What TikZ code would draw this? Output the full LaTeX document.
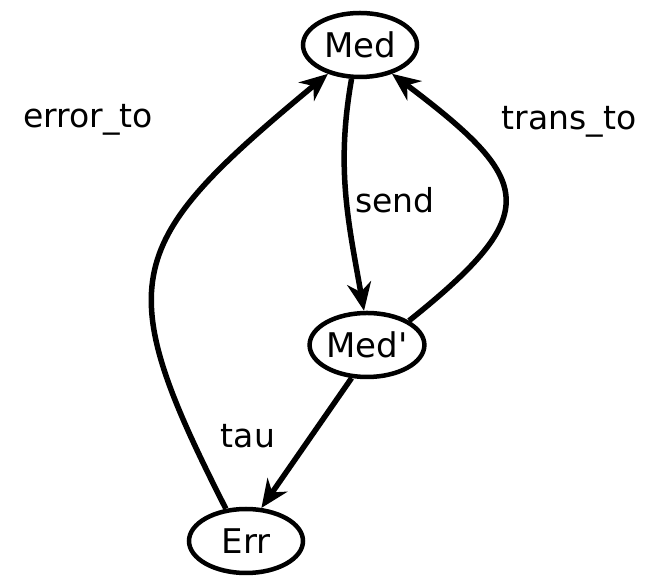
\documentclass[tikz,border=0pt]{standalone}
\usepackage{fontspec}
\setmainfont{DejaVu Sans}
\usetikzlibrary{arrows.meta,shapes.geometric}

\begin{document}
\begin{tikzpicture}[x=1pt,y=1pt,
  state/.style={draw,ellipse,line width=4.5pt,inner sep=0pt,
    minimum width=114pt,minimum height=64pt,font=\fontsize{34}{36}\selectfont},
  lbl/.style={font=\fontsize{33}{36}\selectfont},
  edge/.style={line width=5.5pt,-{Stealth[length=28pt,width=24pt,inset=9pt]}}]

\useasboundingbox (0,0) rectangle (653,577);

\node[state] (med) at (360,532) {Med};
\node[state] (medp) at (367,232) {Med\textquotesingle};
\node[state] (err) at (246,36) {Err};

\node[lbl] (lerror) at (88,457) {error\_to};
\node[lbl] (lsend) at (395,377) {send};
\node[lbl] (ltrans) at (569,455) {trans\_to};
\node[lbl] (ltau) at (248,141) {tau};

\draw[edge] (med.256) to[out=-100,in=100] (medp.95);
\draw[edge] (medp.30) .. controls +(135,108) and +(142,-107) .. (med.-42);
\draw[edge] (err.122) .. controls +(-117,230) and +(-205,-170) .. (med.222);
\draw[edge] (medp.245) -- (err.65);

\end{tikzpicture}
\end{document}
